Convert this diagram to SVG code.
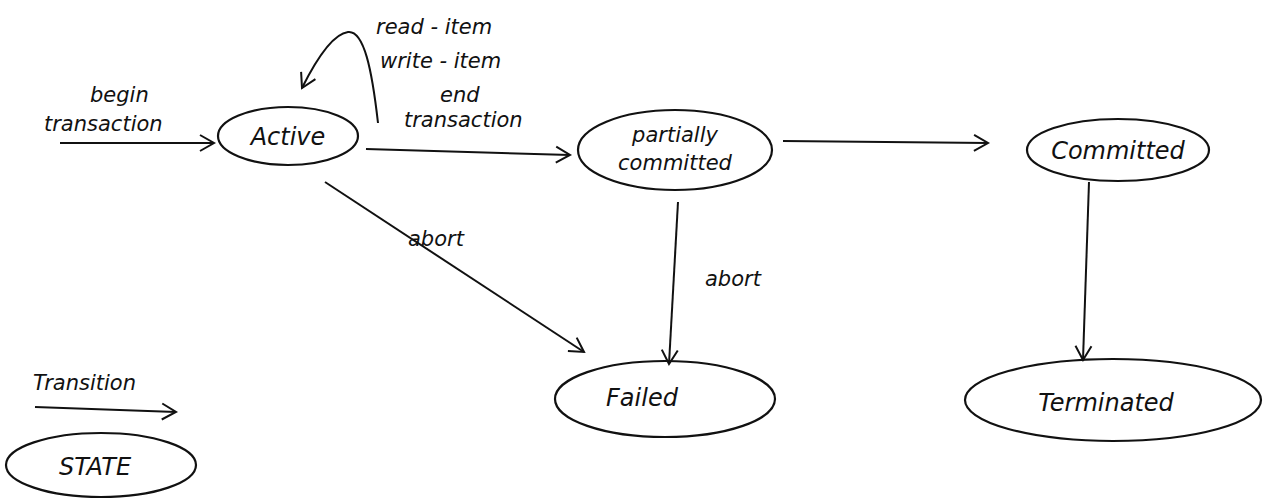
<svg xmlns="http://www.w3.org/2000/svg" width="1264" height="499" viewBox="0 0 1264 499">
<style>
.st{fill:none;stroke:#111;stroke-width:2.2}
.cn{fill:none;stroke:#111;stroke-width:2}
.lb{font-family:"DejaVu Sans",sans-serif;font-style:italic;font-size:21px;fill:#111}
.nd{font-family:"DejaVu Sans",sans-serif;font-style:italic;font-size:24px;fill:#111;text-anchor:middle}
</style>
<defs>
<marker id="ah" markerWidth="20" markerHeight="20" refX="16" refY="10" orient="auto" markerUnits="userSpaceOnUse">
<polyline points="2,2 16,10 2,18" fill="none" stroke="#111" stroke-width="2"/>
</marker>
</defs>
<rect width="1264" height="499" fill="#fff"/>
<g id="connectors">
<line class="cn" x1="60" y1="143" x2="214" y2="143" marker-end="url(#ah)"/>
<path class="cn" d="M378,123 C372,70 364,30 348,32 C332,34 316,60 302,88" marker-end="url(#ah)"/>
<line class="cn" x1="366" y1="149" x2="570" y2="155" marker-end="url(#ah)"/>
<line class="cn" x1="325" y1="182" x2="584" y2="352" marker-end="url(#ah)"/>
<line class="cn" x1="678" y1="202" x2="669" y2="364" marker-end="url(#ah)"/>
<line class="cn" x1="783" y1="141" x2="988" y2="143" marker-end="url(#ah)"/>
<line class="cn" x1="1089" y1="182" x2="1083" y2="360" marker-end="url(#ah)"/>
<line class="cn" x1="35" y1="407" x2="176" y2="412" marker-end="url(#ah)"/>
</g>
<g id="labels">
<text class="lb" x="90" y="102">begin</text>
<text class="lb" x="44" y="131">transaction</text>
<text class="lb" x="376" y="34">read - item</text>
<text class="lb" x="380" y="68">write - item</text>
<text class="lb" x="440" y="102">end</text>
<text class="lb" x="404" y="127">transaction</text>
<text class="lb" x="408" y="246">abort</text>
<text class="lb" x="705" y="286">abort</text>
<text class="lb" x="33" y="390">Transition</text>
</g>
<g id="active">
<ellipse class="st" cx="288" cy="136" rx="70" ry="29"/>
<text class="nd" x="288" y="145">Active</text>
</g>
<g id="partially-committed">
<ellipse class="st" cx="675" cy="150" rx="97" ry="40"/>
<text class="nd" x="675" y="142" style="font-size:21px">partially</text>
<text class="nd" x="675" y="170" style="font-size:21px">committed</text>
</g>
<g id="committed">
<ellipse class="st" cx="1118" cy="150" rx="91" ry="31"/>
<text class="nd" x="1118" y="159">Committed</text>
</g>
<g id="failed">
<ellipse class="st" cx="665" cy="399" rx="110" ry="38"/>
<text class="nd" x="642" y="406">Failed</text>
</g>
<g id="terminated">
<ellipse class="st" cx="1113" cy="400" rx="148" ry="41"/>
<text class="nd" x="1106" y="411">Terminated</text>
</g>
<g id="state-legend">
<ellipse class="st" cx="101" cy="465" rx="95" ry="32"/>
<text class="nd" x="95" y="475">STATE</text>
</g>
</svg>
